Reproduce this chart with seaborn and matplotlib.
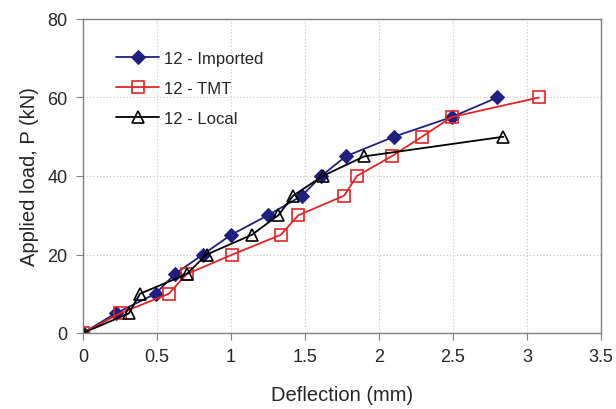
import matplotlib
matplotlib.use("Agg")
import matplotlib.pyplot as plt
import seaborn as sns
import pandas as pd

imported_x = [0, 0.22, 0.49, 0.62, 0.81, 1.0, 1.25, 1.48, 1.61, 1.775, 2.10, 2.49, 2.80]
imported_y = [0, 5, 10, 15, 20, 25, 30, 35, 40, 45, 50, 55, 60]
tmt_x = [0, 0.25, 0.58, 0.70, 1.01, 1.336, 1.455, 1.765, 1.85, 2.085, 2.29, 2.49, 3.08]
tmt_y = [0, 5, 10, 15, 20, 25, 30, 35, 40, 45, 50, 55, 60]
local_x = [0, 0.31, 0.385, 0.70, 0.836, 1.14, 1.32, 1.42, 1.62, 1.90, 2.84]
local_y = [0, 5, 10, 15, 20, 25, 30, 35, 40, 45, 50]

labels = ["12 - Imported", "12 - TMT", "12 - Local"]
x_ticks = [0, 0.5, 1, 1.5, 2, 2.5, 3, 3.5]
y_ticks = [0, 20, 40, 60, 80]

sns.set_style("white")
plt.rcParams["font.family"] = ["Liberation Sans", "DejaVu Sans"]

fig = plt.figure(figsize=(6.16, 4.10), dpi=100)
ax = fig.add_axes([83/616, 1 - 334/410, (601 - 83)/616, (334 - 20)/410])

series = [
    (imported_x, imported_y, labels[0], "#1F1F7F", dict(marker="D", markersize=7, markerfacecolor="#1F1F7F", markeredgecolor="#1F1F7F")),
    (tmt_x, tmt_y, labels[1], "#E02525", dict(marker="s", markersize=8, markerfacecolor="none", markeredgecolor="#E02525", markeredgewidth=1.2)),
    (local_x, local_y, labels[2], "#000000", dict(marker="^", markersize=9, markerfacecolor="none", markeredgecolor="#000000", markeredgewidth=1.2)),
]
for xs, ys, lab, col, mk in series:
    df = pd.DataFrame({"x": xs, "y": ys})
    sns.lineplot(data=df, x="x", y="y", ax=ax, sort=False, color=col, linewidth=1.3,
                 label=lab, **mk)

ax.set_xlim(0, 3.5)
ax.set_ylim(0, 80)
ax.set_xticks(x_ticks)
ax.set_xticklabels([f"{t:g}" for t in x_ticks])
ax.set_yticks(y_ticks)
ax.grid(True, linestyle=(0, (1, 2)), color="#C4C4C4", linewidth=0.8)
for s in ax.spines.values():
    s.set_color("#808080")
    s.set_linewidth(1.0)
ax.tick_params(axis="both", direction="out", length=5, color="#808080", labelsize=13, pad=6, bottom=True, left=True)
ax.set_xlabel("Deflection (mm)", fontsize=14.5, labelpad=14)
ax.set_ylabel("Applied load, P (kN)", fontsize=14.5, labelpad=6)

leg = ax.legend(loc="upper left", bbox_to_anchor=(0.035, 0.945), frameon=False, fontsize=12,
                handlelength=2.6, labelspacing=0.9, handletextpad=0.25)

fig.savefig("out.png", dpi=100)
